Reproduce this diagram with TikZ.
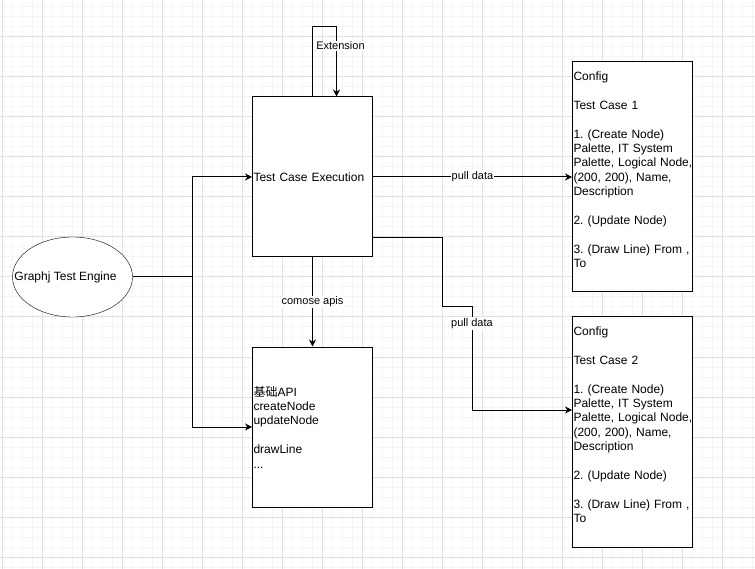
\documentclass[tikz,border=0pt]{standalone}
\usepackage{fontspec}
\setmainfont{Liberation Sans}
\newfontfamily\cjk{Noto Sans CJK SC}
\usetikzlibrary{shapes.geometric,arrows.meta}
\tikzset{
  box/.style={draw,fill=white,line width=1pt,
    minimum width=120pt,minimum height=160pt,
    inner xsep=1pt,text width=118pt,align=left,
    font=\fontsize{12}{14.4}\selectfont\frenchspacing},
  lbl/.style={fill=white,inner sep=1pt,font=\fontsize{11}{13}\selectfont},
  link/.style={line width=1pt,-{Stealth[length=7pt,width=7pt]}},
  gridminor/.style={line width=1pt,gray!8},
  gridmajor/.style={line width=1pt,gray!24}
}

\begin{document}
\begin{tikzpicture}[x=1pt,y=-1pt]
\useasboundingbox (0,0) rectangle (755,569);

% Grid
\foreach \gx in {2,12,...,752} \draw[gridminor] (\gx,0) -- (\gx,569);
\foreach \gy in {7,17,...,567} \draw[gridminor] (0,\gy) -- (755,\gy);
\foreach \gx in {2,42,...,722} \draw[gridmajor] (\gx,0) -- (\gx,569);
\foreach \gy in {37,77,...,557} \draw[gridmajor] (0,\gy) -- (755,\gy);

\node[draw,ellipse,
    fill=white,
    minimum width=120pt,
    minimum height=80pt,
    inner sep=0pt,
    font=\fontsize{12}{14.4}\selectfont
] (engine) at (72.5,277) {\makebox[0pt]{Graphj Test Engine\hspace*{14pt}}};

\node[box] (exec) at (312.5,177) {Test Case Execution};

\node[box] (api) at (312.5,427) {{\cjk 基础}API\\ createNode\\ updateNode\\ ~\\ drawLine\\ ...};

\node[box,
    minimum height=230pt
] (case1) at (632.5,177) {Config\\ ~\\ Test Case 1\\ ~\\ 1. (Create Node)\\ Palette, IT System\\ \mbox{Palette, Logical Node,}\\ (200, 200), Name,\\ Description\\ ~\\ 2. (Update Node)\\ ~\\ \mbox{3. (Draw Line) From ,}\\ To\\ ~};

\node[box,
    minimum height=230pt
] (case2) at (632.5,432) {Config\\ ~\\ Test Case 2\\ ~\\ 1. (Create Node)\\ Palette, IT System\\ \mbox{Palette, Logical Node,}\\ (200, 200), Name,\\ Description\\ ~\\ 2. (Update Node)\\ ~\\ \mbox{3. (Draw Line) From ,}\\ To\\ ~};

\coordinate (fork) at (192,277);
\coordinate (loop) at (336.5,27);

% Arrows
\draw[line width=1pt] (engine.east) -- (fork);
\draw[link] (fork) |- (exec.west);
\draw[link] (fork) |- (api.west);
\draw[link] (exec.north) |- (loop) -- node[lbl,pos=0.27,xshift=4pt] {Extension} (exec.north -| loop);
\draw[link] (exec) -- node[lbl] {comose apis} (api);
\draw[link] (exec) -- node[lbl] {pull data} (case1);
\draw[link] ([yshift=20pt]exec.south east) -| (442,307) -- (472,307)
    -- node[lbl,pos=0.16] {pull data} (472,410) -- (case2.west |- 0,410);
\end{tikzpicture}
\end{document}
